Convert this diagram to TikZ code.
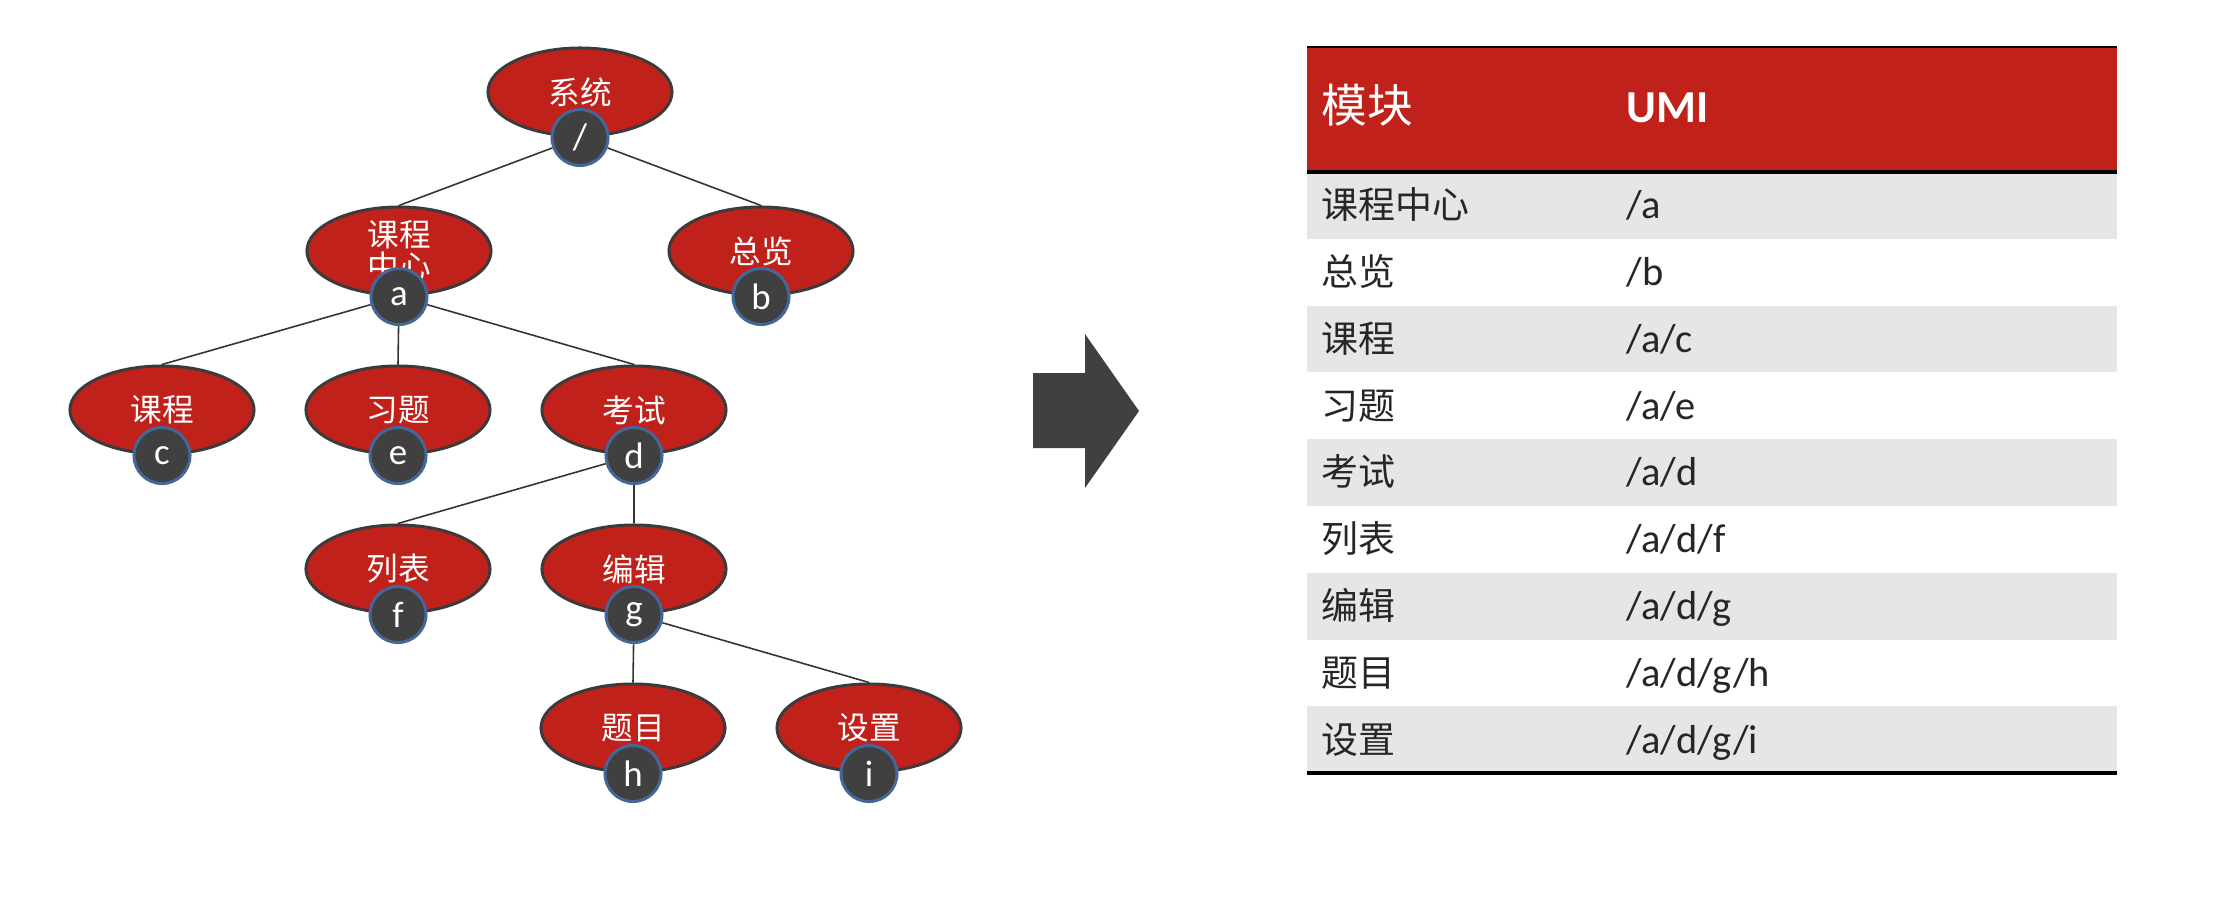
\documentclass[tikz,border=0pt]{standalone}
\usepackage{fontspec}
\setmainfont{Carlito}
\newfontfamily\cjk{Noto Sans CJK SC}
\usepackage{xcolor}
\usepackage{tikz}
\usetikzlibrary{shapes.geometric}

\definecolor{umired}{HTML}{C0211A}
\definecolor{keygray}{HTML}{404040}
\definecolor{keyring}{HTML}{44679A}
\definecolor{rowgray}{HTML}{E7E6E6}

\begin{document}
\begin{tikzpicture}[
  x=0.01cm, y=-0.01cm,
  mod/.style={
    ellipse, draw=black!77, fill=umired, line width=0.85pt,
    minimum width=1.84cm, minimum height=0.88cm, inner sep=0pt,
    text=white, align=center, font=\cjk\fontsize{9}{9.2}\selectfont
  },
  key/.style={
    circle, draw=keyring, fill=keygray, line width=0.85pt,
    minimum size=0.56cm, inner sep=0pt, text=white,
    font=\fontsize{10.5}{12}\selectfont
  },
  link/.style={line width=0.45pt, draw=black!80},
  cell/.style={anchor=west, inner sep=0pt, text=black!85,
    text height=0.86em, text depth=0.1em, font=\fontsize{11.5}{13}\selectfont},
  cellcjk/.style={cell, font=\cjk\fontsize{10.5}{12}\selectfont},
  head/.style={cell, text=white, font=\bfseries\fontsize{13}{15}\selectfont},
  headcjk/.style={head, font=\cjk\fontsize{13}{15}\selectfont}
]
  \useasboundingbox (0,0) rectangle (2223,912);

  % module tree
  \node[mod] (sys) at (580,92) {系统};
  \node[key] (k0) at (sys.south) {/};
  \node[mod] (cc) at (399,251) {课程\\中心};
  \node[key] (ka) at (cc.south) {a};
  \node[mod] (ov) at (761,251) {总览};
  \node[key] (kb) at (ov.south) {b};
  \node[mod] (co) at (162,410) {课程};
  \node[key] (kc) at (co.south) {c};
  \node[mod] (ex) at (398,410) {习题};
  \node[key] (ke) at (ex.south) {e};
  \node[mod] (te) at (634,410) {考试};
  \node[key] (kd) at (te.south) {d};
  \node[mod] (li) at (398,569) {列表};
  \node[key] (kf) at (li.south) {f};
  \node[mod] (ed) at (634,569) {编辑};
  \node[key] (kg) at (ed.south) {g};
  \node[mod] (qu) at (633,728) {题目};
  \node[key] (kh) at (qu.south) {h};
  \node[mod] (se) at (869,728) {设置};
  \node[key] (ki) at (se.south) {i};

  \foreach \p/\c in {k0/cc, k0/ov, ka/co, ka/ex, ka/te, kd/li, kd/ed, kg/qu, kg/se}
    \draw[link] (\p) -- (\c.north);

  % big arrow
  \fill[keygray] (1033,373) -- (1085,373) -- (1085,334) -- (1139,411)
    -- (1085,488) -- (1085,448) -- (1033,448) -- cycle;

  % table
  \fill[umired] (1307,47) rectangle (2117,172);
  \node[headcjk] (hm) at (1321,109) {模块};
  \node[head] (hu) at (1626,109) {UMI};
  \foreach \m/\u [count=\i] in {课程中心/{/a}, 总览/{/b}, 课程/{/a/c}, 习题/{/a/e},
      考试/{/a/d}, 列表/{/a/d/f}, 编辑/{/a/d/g}, 题目/{/a/d/g/h}, 设置/{/a/d/g/i}} {
    \pgfmathsetmacro\yc{172+(\i-0.5)*66.8}
    \ifodd\i \fill[rowgray] (1307,\yc-33.4) rectangle (2117,\yc+33.4); \fi
    \node[cellcjk] (m\i) at (1321,\yc) {\m};
    \node[cell] (u\i) at (1626,\yc) {\u};
  }
  \draw[line width=0.6pt] (1307,47) -- (2117,47);
  \draw[line width=1.2pt] (1307,172) -- (2117,172);
  \draw[line width=1.2pt] (1307,773) -- (2117,773);
\end{tikzpicture}
\end{document}
